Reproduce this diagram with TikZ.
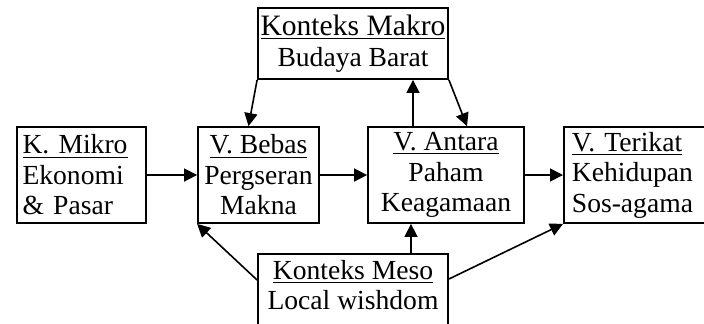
\documentclass[tikz,border=0pt]{standalone}
\usepackage{fontspec}
\setmainfont{Liberation Serif}
\usetikzlibrary{arrows.meta}

\begin{document}
\begin{tikzpicture}[x=0.5pt,y=-0.5pt,
  box/.style={draw,line width=0.9pt,align=center,inner sep=0pt,
    font=\fontsize{13.8}{15.25}\selectfont},
  arr/.style={-{Triangle[length=6.5pt,width=6.5pt]},line width=0.8pt}]
  %% Frame: 704 x 323 px, y runs downward
  \useasboundingbox (0,0) rectangle (704,323);
  %% Middle row
  \node[box,align=left,text width=59pt,inner xsep=2.75pt,minimum height=48pt]
       (mikro) at (81.5,175) {\underline{K. Mikro}\\Ekonomi\\\& Pasar};
  \node[box,minimum width=60.5pt,minimum height=48pt]
       (bebas) at (258.5,175) {\underline{V. Bebas}\\Pergseran\\Makna};
  \node[box,minimum width=78pt,minimum height=48pt]
       (antara) at (446,175) {\underline{V. Antara}\\Paham\\Keagamaan};
  %% Terikat runs past the right edge
  \node[box,anchor=west,align=left,text width=80pt,inner xsep=4pt,minimum height=48pt]
       (terikat) at (563,175) {\underline{V. Terikat}\\Kehidupan\\Sos-agama};
  %% Contexts above and below
  \node[box,minimum width=95pt,minimum height=35.5pt]
       (makro) at (353,43.5)
       {{\fontsize{14.8}{15.25}\selectfont\underline{Konteks Makro}}\\Budaya Barat};
  %% Meso runs past the bottom edge
  \node[box,anchor=north,minimum width=95pt,inner ysep=3pt,text depth=12pt]
       (meso) at (353,253) {\underline{Konteks Meso}\\Local wishdom};
  %% Arrows
  \draw[arr] (mikro) -- (bebas);
  \draw[arr] (bebas) -- (antara);
  \draw[arr] (antara) -- (terikat);
  \draw[arr] (makro.south west) -- ([xshift=-5pt]bebas.north);
  \draw[arr] ([xshift=-16.5pt]antara.north) -- ([xshift=-16.5pt]antara.north |- makro.south);
  \draw[arr] (makro.south east) -- ([xshift=10.5pt]antara.north);
  \draw[arr] ([yshift=-13.5pt]meso.north west) -- (bebas.south west);
  \draw[arr] ([xshift=-17.5pt]antara.south |- meso.north) -- ([xshift=-17.5pt]antara.south);
  \draw[arr] ([yshift=-13pt]meso.north east) -- (terikat.south west);
\end{tikzpicture}
\end{document}
